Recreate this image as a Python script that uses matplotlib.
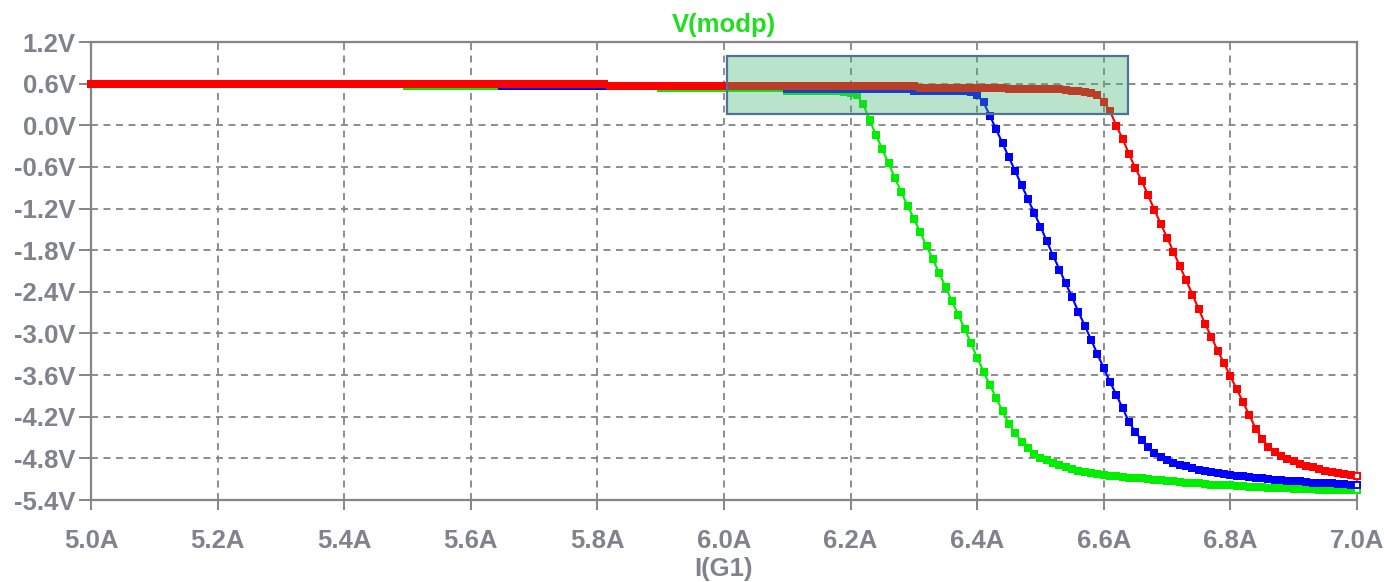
import numpy as np
import matplotlib.pyplot as plt
from matplotlib.patches import Rectangle

plt.rcParams['font.family'] = ['Liberation Sans', 'DejaVu Sans']
plt.rcParams['lines.scale_dashes'] = False

# I(G1) sweep, 5 A to 7 A in 10 mA steps
i_start, i_stop, i_step = 5.0, 7.0, 0.01
i_g1 = np.round(np.arange(i_start, i_stop + i_step / 2, i_step), 2)

# V(modp) for the three stepped runs
v_green = [
    0.59, 0.59, 0.59, 0.59, 0.59, 0.59, 0.59, 0.59, 0.59, 0.59, 0.59, 0.59, 0.59, 0.59, 0.59, 0.59, 0.59, 0.59, 0.59, 0.59,
    0.59, 0.59, 0.59, 0.59, 0.59, 0.59, 0.59, 0.59, 0.59, 0.59, 0.59, 0.59, 0.59, 0.59, 0.59, 0.59, 0.59, 0.59, 0.59, 0.59,
    0.59, 0.59, 0.59, 0.59, 0.59, 0.59, 0.59, 0.59, 0.59, 0.59,
    0.57, 0.57, 0.57, 0.57, 0.57, 0.57, 0.57, 0.57, 0.57, 0.57, 0.57, 0.57, 0.57, 0.57, 0.57, 0.57, 0.57, 0.57, 0.57, 0.57,
    0.57, 0.57, 0.57, 0.57, 0.57, 0.57, 0.57, 0.57, 0.57, 0.57, 0.57, 0.57, 0.57, 0.57, 0.57, 0.57, 0.57, 0.57, 0.57, 0.57,
    0.54, 0.54, 0.54, 0.54, 0.54, 0.54, 0.54, 0.54, 0.54, 0.54, 0.54, 0.54, 0.54, 0.54, 0.54, 0.54, 0.54, 0.54, 0.54, 0.54,
    0.50, 0.50, 0.50, 0.50, 0.50, 0.50, 0.50, 0.50, 0.50,
    0.48, 0.47, 0.43, 0.30, 0.08, -0.14, -0.34, -0.55, -0.76, -0.96,
    -1.16, -1.35, -1.54, -1.74, -1.93, -2.13, -2.33, -2.53, -2.73, -2.93,
    -3.14, -3.35, -3.55, -3.74, -3.93, -4.12, -4.30, -4.44, -4.56, -4.65,
    -4.73, -4.79, -4.83, -4.87, -4.90, -4.93, -4.96, -4.98, -5.00, -5.01,
    -5.02, -5.04, -5.05, -5.06, -5.07, -5.08, -5.09, -5.09, -5.10, -5.11,
    -5.11, -5.12, -5.13, -5.14, -5.15, -5.16, -5.16, -5.17, -5.18, -5.18,
    -5.19, -5.19, -5.20, -5.20, -5.21, -5.21, -5.21, -5.22, -5.22, -5.23,
    -5.23, -5.24, -5.24, -5.24, -5.24, -5.25, -5.25, -5.25, -5.26, -5.26,
    -5.26, -5.26,
]

v_blue = [
    0.59, 0.59, 0.59, 0.59, 0.59, 0.59, 0.59, 0.59, 0.59, 0.59, 0.59, 0.59, 0.59, 0.59, 0.59, 0.59, 0.59, 0.59, 0.59, 0.59,
    0.59, 0.59, 0.59, 0.59, 0.59, 0.59, 0.59, 0.59, 0.59, 0.59, 0.59, 0.59, 0.59, 0.59, 0.59, 0.59, 0.59, 0.59, 0.59, 0.59,
    0.59, 0.59, 0.59, 0.59, 0.59, 0.59, 0.59, 0.59, 0.59, 0.59, 0.59, 0.59, 0.59, 0.59, 0.59, 0.59, 0.59, 0.59, 0.59, 0.59,
    0.59, 0.59, 0.59, 0.59, 0.59,
    0.57, 0.57, 0.57, 0.57, 0.57, 0.57, 0.57, 0.57, 0.57, 0.57, 0.57, 0.57, 0.57, 0.57, 0.57,
    0.57, 0.57, 0.57, 0.57, 0.57, 0.57, 0.57, 0.57, 0.57, 0.57, 0.57, 0.57, 0.57, 0.57, 0.57, 0.57, 0.57, 0.57, 0.57, 0.57,
    0.57, 0.57, 0.57, 0.57, 0.57, 0.57, 0.57, 0.57, 0.57, 0.57,
    0.52, 0.52, 0.52, 0.52, 0.52, 0.52, 0.52, 0.52, 0.52, 0.52, 0.52, 0.52, 0.52, 0.52, 0.52, 0.52, 0.52, 0.52, 0.52, 0.52,
    0.49, 0.49, 0.49, 0.49, 0.49, 0.49, 0.49, 0.49, 0.49,
    0.48, 0.43, 0.33, 0.14, -0.06, -0.26, -0.46, -0.66, -0.86, -1.06,
    -1.26, -1.46, -1.67, -1.88, -2.08, -2.28, -2.48, -2.69, -2.89, -3.09,
    -3.30, -3.50, -3.70, -3.89, -4.08, -4.28, -4.42, -4.54, -4.64, -4.72,
    -4.78, -4.83, -4.86, -4.89, -4.91, -4.94, -4.97, -4.98, -5.00, -5.01,
    -5.02, -5.04, -5.05, -5.06, -5.07, -5.08, -5.09, -5.10, -5.11, -5.11,
    -5.12, -5.13, -5.13, -5.14, -5.15, -5.15, -5.16, -5.16, -5.17, -5.17,
    -5.18, -5.18,
]

v_red = [
    0.60, 0.60, 0.60, 0.60, 0.60, 0.60, 0.60, 0.60, 0.60, 0.60, 0.60, 0.60, 0.60, 0.60, 0.60, 0.60, 0.60, 0.60, 0.60, 0.60,
    0.60, 0.60, 0.60, 0.60, 0.60, 0.60, 0.60, 0.60, 0.60, 0.60, 0.60, 0.60, 0.60, 0.60, 0.60, 0.60, 0.60, 0.60, 0.60, 0.60,
    0.60, 0.60, 0.60, 0.60, 0.60, 0.60, 0.60, 0.60, 0.60, 0.60, 0.60, 0.60, 0.60, 0.60, 0.60, 0.60, 0.60, 0.60, 0.60, 0.60,
    0.60, 0.60, 0.60, 0.60, 0.60, 0.60, 0.60, 0.60, 0.60, 0.60, 0.60, 0.60, 0.60, 0.60, 0.60, 0.60, 0.60, 0.60, 0.60, 0.60,
    0.60, 0.60,
    0.57, 0.57, 0.57, 0.57, 0.57, 0.57, 0.57, 0.57, 0.57, 0.57, 0.57, 0.57, 0.57, 0.57, 0.57, 0.57, 0.57, 0.57, 0.57, 0.57,
    0.57, 0.57, 0.57, 0.57, 0.57, 0.57, 0.57, 0.57, 0.57, 0.57, 0.57, 0.57, 0.57,
    0.56, 0.56, 0.56, 0.56, 0.56, 0.56, 0.56, 0.56, 0.56, 0.56, 0.56, 0.56, 0.56, 0.56, 0.56, 0.56,
    0.53, 0.53, 0.53, 0.53, 0.53, 0.53, 0.53, 0.53, 0.53, 0.53, 0.53, 0.53, 0.53, 0.53,
    0.52, 0.52, 0.52, 0.52, 0.52, 0.52, 0.52, 0.52, 0.52,
    0.51, 0.50, 0.49, 0.48, 0.46, 0.43, 0.34, 0.20, -0.01, -0.20,
    -0.42, -0.62, -0.80, -1.01, -1.22, -1.42, -1.62, -1.82, -2.03, -2.23,
    -2.44, -2.65, -2.86, -3.05, -3.25, -3.43, -3.62, -3.80, -3.99, -4.18,
    -4.37, -4.52, -4.63, -4.71, -4.76, -4.81, -4.84, -4.88, -4.91, -4.93,
    -4.95, -4.98, -4.99, -5.01, -5.03, -5.04, -5.06,
]

x_ticks = [5.0, 5.2, 5.4, 5.6, 5.8, 6.0, 6.2, 6.4, 6.6, 6.8, 7.0]
y_ticks = [-5.4, -4.8, -4.2, -3.6, -3.0, -2.4, -1.8, -1.2, -0.6, 0.0, 0.6, 1.2]

gray = '#858585'
label_gray = '#80838c'

fig = plt.figure(figsize=(13.84, 5.82), dpi=100)
ax = fig.add_axes([0.06575, 0.14089, 0.91474, 0.78694])

for v, c in [(v_green, '#00ee00'), (v_blue, '#0000ff'), (v_red, '#ff0000')]:
    ax.plot(i_g1, v, color=c, lw=1.5, marker='s', markersize=5.4,
            markeredgewidth=0, zorder=3, clip_on=False)
    # last sample drawn as an open square
    ax.plot(i_g1[-1:], v[-1:], color=c, lw=0, marker='s', markersize=5.0,
            markerfacecolor='white', markeredgewidth=1.3, zorder=4, clip_on=False)

# highlighted region
ax.add_patch(Rectangle((6.005, 0.161), 0.633, 0.841, facecolor=(0.24, 0.70, 0.44, 0.36),
                       edgecolor='#4f7296', lw=1.6, zorder=5))

ax.set_xlim(5.0, 7.0)
ax.set_ylim(-5.4, 1.2)
ax.set_xticks(x_ticks)
ax.set_yticks(y_ticks)
ax.set_xticklabels(['%.1fA' % t for t in x_ticks])
ax.set_yticklabels(['%.1fV' % t for t in y_ticks])

ax.grid(True, color=gray, lw=1.3, linestyle=(0, (5, 4)))
ax.set_axisbelow(True)
for s in ax.spines.values():
    s.set_color(gray)
    s.set_linewidth(1.6)

ax.tick_params(axis='x', colors=gray, length=7, width=1.4, pad=14,
               labelsize=18.5, labelcolor=label_gray)
ax.tick_params(axis='y', colors=gray, length=9, width=1.4, pad=2,
               labelsize=18.5, labelcolor=label_gray)
for lab in ax.get_xticklabels() + ax.get_yticklabels():
    lab.set_fontweight('bold')

ax.set_title('V(modp)', color='#22dd22', fontsize=18.5, fontweight='bold', pad=7)
ax.set_xlabel('I(G1)', color=label_gray, fontsize=18.5, fontweight='bold', labelpad=3)

plt.savefig('out.png', dpi=100)
